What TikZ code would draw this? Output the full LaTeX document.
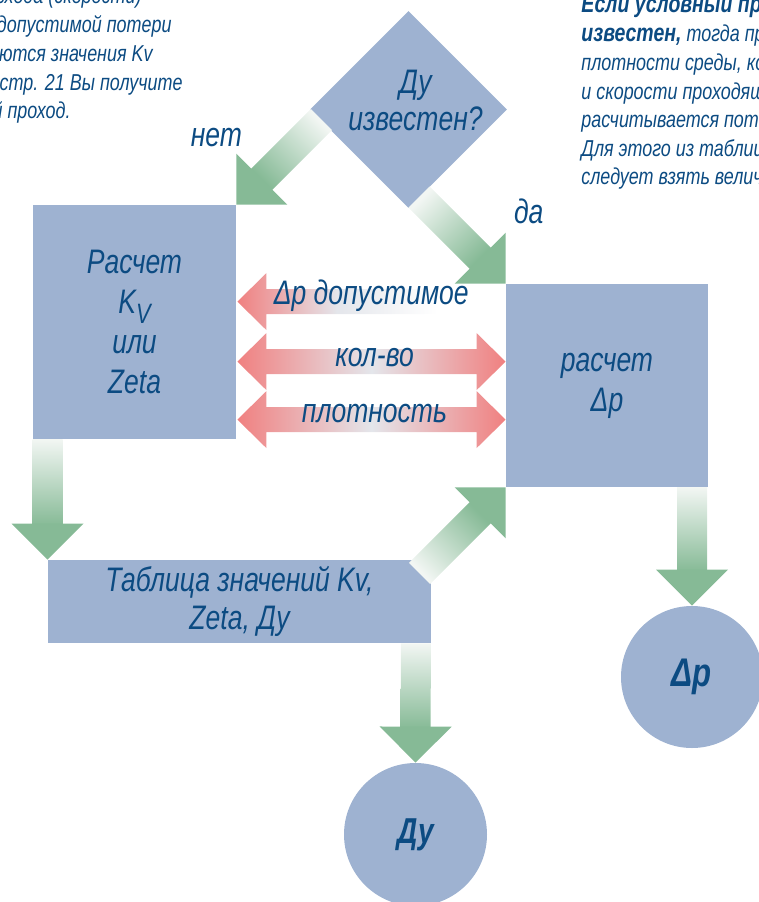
\documentclass[tikz,border=0pt]{standalone}
\usepackage{fontspec}
\setmainfont{Liberation Sans}[FakeStretch=0.78]
\usepackage{tikz}
\usetikzlibrary{shapes, calc, positioning}
\definecolor{boxblue}{RGB}{158,178,209}
\definecolor{textblue}{RGB}{12,75,130}
\definecolor{arrowgreen}{RGB}{134,186,150}
\definecolor{greenlight}{RGB}{242,246,243}
\definecolor{arrowred}{RGB}{240,128,128}
\definecolor{arrowgray}{RGB}{228,230,235}
\tikzstyle{block}=[fill=boxblue,rectangle]
\tikzstyle{decision}=[fill=boxblue,diamond,aspect=1,minimum width=98.5pt,minimum height=98.5pt]
\tikzstyle{result}=[fill=boxblue,circle,font=\fontsize{18}{20}\selectfont\bfseries\itshape]
\tikzstyle{every node}=[inner sep=0pt,align=center,text=textblue,font=\fontsize{17}{20}\selectfont\itshape]
\tikzstyle{note}=[font=\fontsize{11.5}{14.5}\selectfont\itshape,align=left]
\tikzstyle{shaft}=[top color=greenlight,bottom color=arrowgreen]
\tikzstyle{twoway}=[left color=arrowred,right color=arrowred,middle color=arrowgray]
\tikzstyle{oneway}=[left color=arrowred,right color=white,middle color=arrowgray]

% fat green arrow: tail, tip, shading angle
\newcommand{\fatarrow}[3]{%
  \coordinate (neck) at ($(#2)!18pt!(#1)$);
  \coordinate (stub) at ($(#2)!17pt!(#1)$);
  \path[shaft,shading angle=#3] ($(#1)!7.5pt!90:(#2)$) -- ($(stub)!7.5pt!90:(#2)$)
    -- ($(stub)!7.5pt!-90:(#2)$) -- ($(#1)!7.5pt!-90:(#2)$) -- cycle;
  \fill[arrowgreen] ($(neck)!18pt!90:(#2)$) -- (#2) -- ($(neck)!18pt!-90:(#2)$) -- cycle;
}
% red double arrow: left tip, right tip
\newcommand{\redarrow}[2]{%
  \path[twoway] (#1) -- ($(#1)+(14.5pt,14.25pt)$) -- ($(#1)+(14.5pt,6.25pt)$)
    -- ($(#2)+(-14.5pt,6.25pt)$) -- ($(#2)+(-14.5pt,14.25pt)$) -- (#2)
    -- ($(#2)+(-14.5pt,-14.25pt)$) -- ($(#2)+(-14.5pt,-6.25pt)$)
    -- ($(#1)+(14.5pt,-6.25pt)$) -- ($(#1)+(14.5pt,-14.25pt)$) -- cycle;
}

\begin{document}
\begin{tikzpicture}[x=0.5pt,y=-0.5pt,on grid]
  \clip (0,0) rectangle (759,902);
  % boxes
  \node[decision] (D) at (408.5,109.5) {};
  \node[font=\fontsize{17}{18.5}\selectfont\itshape] (Dq) at ($(D)+(7,-9)$) {Ду\\известен?};
  \node[below left=106.25pt and 137pt of D,block,minimum width=101.5pt,minimum height=117pt] (L)
    {Расчет\\K\raisebox{-5pt}{\fontsize{14}{14}\selectfont V}\\или\\Zeta};
  \node[below right=138pt and 99.25pt of D,block,minimum width=101pt,minimum height=101.5pt] (R)
    {расчет\\Δp};
  \node[below right=139.75pt and 52.5pt of L,block,minimum width=191.5pt,minimum height=41.5pt,
    font=\fontsize{17}{19}\selectfont\itshape] (T) {Таблица значений Kv,\\Zeta, Ду};
  \node[below right=116.5pt and 88pt of T,result,minimum size=71.5pt] (Du) {Ду};
  \node[below right=145.75pt and 42.5pt of R,result,minimum size=71pt,
    font=\fontsize{20}{20}\selectfont\bfseries\itshape] (Dp) {Δp};

  % green arrows
  \coordinate (Lt) at ($(L.south west)+(15,0)$);
  \fatarrow{Lt}{T.north west}{0}
  \coordinate (Tt) at ($(T.south east)+(-15.5,0)$);
  \fatarrow{Tt}{Du.north}{0}
  \coordinate (Rt) at (R.south -| Dp.north);
  \fatarrow{Rt}{Dp.north}{0}
  \coordinate (Dl) at ($(L.north east)+(85,-85)$);
  \fatarrow{Dl}{L.north east}{315}
  \coordinate (Dr) at ($(R.north west)+(-86.5,-86.5)$);
  \fatarrow{Dr}{R.north west}{45}
  \coordinate (Tr) at ($(R.south west)+(-86,86)$);
  \fatarrow{Tr}{R.south west}{135}
  \node[anchor=base east] (no) at ($(L.north east)+(6,-58)$) {нет};
  \node[anchor=base west] (yes) at ($(R.north west)+(8,-60)$) {да};

  % red arrows
  \coordinate (pl) at ($(L.north east)+(1,97)$);
  \coordinate (pr) at ($(pl)+(200,0)$);
  \path[oneway] (pl) -- ($(pl)+(14.5pt,14.25pt)$) -- ($(pl)+(14.5pt,6.25pt)$)
    -- ($(pr)+(0,-12.5)$) -- ($(pr)+(0,12.5)$)
    -- ($(pl)+(14.5pt,-6.25pt)$) -- ($(pl)+(14.5pt,-14.25pt)$) -- cycle;
  \coordinate (kl) at ($(L.north east)+(1,157)$);
  \coordinate (kr) at (kl -| R.west);
  \redarrow{kl}{kr}
  \coordinate (ql) at ($(L.north east)+(1,215)$);
  \coordinate (qr) at (ql -| R.west);
  \redarrow{ql}{qr}
  \node[anchor=base west] (dp) at ($(pl)+(36,3)$) {Δp допустимое};
  \node[anchor=base] (kv) at ($(kl)!0.5!(kr)+(3,5)$) {кол-во};
  \node[anchor=base] (ro) at ($(ql)!0.5!(qr)+(3,3)$) {плотность};

  % side notes
  \foreach \txt/\xe/\yb [count=\i] in {%
      {при известных значениях расхода (скорости)}/142/3,
      {плотности среды и допустимой потери}/172/32,
      {давления рассчитываются значения Kv}/153/61,
      {Используя диаграмму на стр. 21 Вы получите}/183/90,
      {необходимый условный проход.}/71/118}
    \node[note,anchor=base east] (left\i) at (\xe,\yb) {\txt};
  \foreach \txt/\yb [count=\i] in {%
      {{\fontsize{12.5}{14.5}\selectfont\bfseries Если условный проход}}/12,
      {{\fontsize{12.5}{14.5}\selectfont\bfseries известен,} тогда при известной}/41,
      {плотности среды, количества}/70,
      {и скорости проходящей среды}/99,
      {расчитывается потеря давления.}/127,
      {Для этого из таблицы значений}/156,
      {следует взять величину Kv.}/184}
    \node[note,anchor=base west] (right\i) at (581,\yb) {\txt};
\end{tikzpicture}
\end{document}
